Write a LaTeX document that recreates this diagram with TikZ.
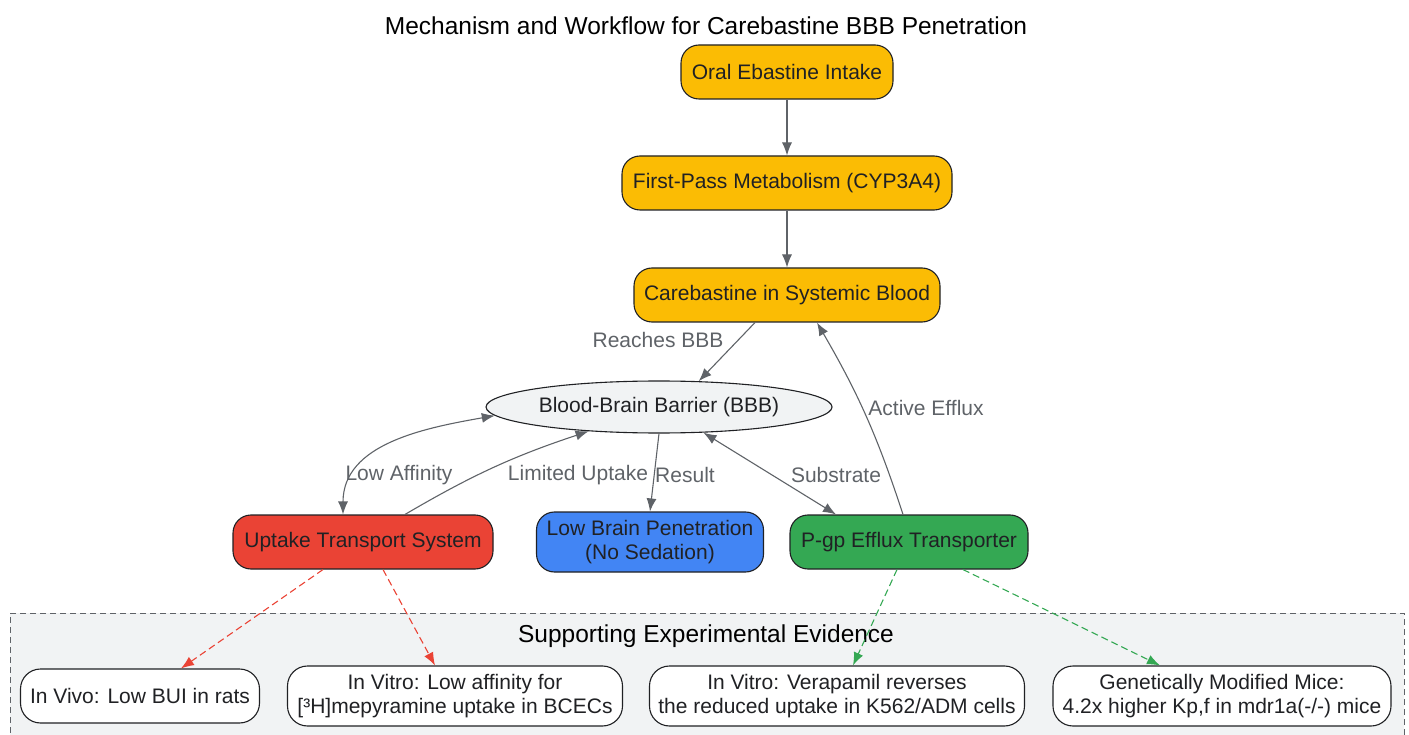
\documentclass[tikz,border=0pt]{standalone}
\usepackage{fontspec}
\setmainfont{Liberation Sans}
\usepackage{tikz}
\usetikzlibrary{arrows.meta}
\usetikzlibrary{shapes.geometric}
\usetikzlibrary{positioning}
\definecolor{amber}{HTML}{FBBC04}
\definecolor{gred}{HTML}{EA4335}
\definecolor{gblue}{HTML}{4285F4}
\definecolor{ggreen}{HTML}{34A853}
\definecolor{edgegray}{HTML}{5F6368}
\definecolor{panelgray}{HTML}{F1F3F4}
\definecolor{inkdark}{HTML}{202124}
\tikzset{>={Latex[length=13pt, width=10pt]}}
\tikzstyle{txt} = [font=\fontsize{21}{24}\selectfont]
\tikzstyle{head} = [font=\fontsize{24.5}{28}\selectfont, text=black, inner sep=0]
\tikzstyle{box} = [txt, rectangle, rounded corners=18pt, draw=inkdark, line width=1.1pt, text=inkdark, minimum height=54pt, align=center]
\tikzstyle{evbox} = [box, fill=white, rounded corners=20pt]
\tikzstyle{lbl} = [txt, text=edgegray, inner sep=0]
\tikzstyle{flow} = [->, draw=edgegray, line width=1.1pt]
\tikzstyle{evd} = [->, line width=1.1pt, dash pattern=on 7pt off 4pt]

\begin{document}
\begin{tikzpicture}[x=1pt, y=-1pt]
\useasboundingbox (0,0) rectangle (1409,735);
%\node [txt] at (706,700) {evidence panel};
\node [rectangle, draw=edgegray, dash pattern=on 6pt off 4pt, line width=1pt, fill=panelgray, minimum width=1394pt, minimum height=128pt, inner sep=0] (panel) at (707,677) {};
\node [head] (title) at (706,26) {Mechanism and Workflow for Carebastine BBB Penetration};
\node [head] (paneltitle) at (706,636) {Supporting Experimental Evidence};

\node [box, fill=amber, minimum width=212pt] (oral) at (787,72) {Oral Ebastine Intake};
\node [box, fill=amber, minimum width=330pt] (fpm) at (787,183) {First-Pass Metabolism (CYP3A4)};
\node [box, fill=amber, minimum width=306pt] (blood) at (787,295) {Carebastine in Systemic Blood};
\node [txt, ellipse, draw=inkdark, line width=1.1pt, fill=panelgray, text=inkdark, minimum width=346pt, minimum height=52pt, inner sep=0] (bbb) at (659,407) {Blood-Brain Barrier (BBB)};
\node [box, fill=gred, minimum width=260pt] (uptake) at (363,542) {Uptake Transport System};
\node [box, fill=gblue, minimum width=227pt, minimum height=60pt] (lowpen) at (650,542) {Low Brain Penetration\\(No Sedation)};
\node [box, fill=ggreen, minimum width=238pt] (pgp) at (909,542) {P-gp Efflux Transporter};

\node [evbox, minimum width=239pt] (invivo) at (140,696) {In Vivo: Low BUI in rats};
\node [evbox, minimum width=335pt, minimum height=60pt] (invitro) at (455,696) {In Vitro: Low affinity for\\{[}³H{]}mepyramine uptake in BCECs};
\node [evbox, minimum width=375pt, minimum height=60pt] (verap) at (837,696) {In Vitro: Verapamil reverses\\the reduced uptake in K562/ADM cells};
\node [evbox, minimum width=338pt, minimum height=60pt] (mice) at (1222,696) {Genetically Modified Mice:\\4.2x higher Kp,f in mdr1a(-/-) mice};

\draw [flow] (oral) to (fpm);
\draw [flow] (fpm) to (blood);
\draw [flow] ([xshift=-32pt]blood.south) to (bbb.33);
\draw [flow] ([xshift=-6pt]pgp.north) to [bend right=6] ([xshift=30pt]blood.south);
\draw [flow, <->] ([xshift=-20pt]uptake.north) to [out=90, in=190] (bbb.183);
\draw [flow] ([xshift=42pt]uptake.north) to [bend left=6] (bbb.199);
\draw [flow] (bbb.south) to (lowpen.north);
\draw [flow, <->] (bbb.330) to ([xshift=-73pt]pgp.north);

\node [lbl] (lreach) at (658,340) {Reaches BBB};
\node [lbl] (lefflux) at (926,408) {Active Efflux};
\node [lbl] (laffin) at (399,475) {Low Affinity};
\node [lbl] (llimit) at (578,475) {Limited Uptake};
\node [lbl] (lresult) at (685,475) {Result};
\node [lbl] (lsubst) at (836,475) {Substrate};

\draw [evd, gred] ([xshift=-40pt]uptake.south) to ([xshift=41pt]invivo.north);
\draw [evd, gred] ([xshift=20pt]uptake.south) to ([xshift=-20pt]invitro.north);
\draw [evd, ggreen] ([xshift=-12pt]pgp.south) to ([xshift=16pt]verap.north);
\draw [evd, ggreen] ([xshift=54pt]pgp.south) to ([xshift=-62pt]mice.north);
\end{tikzpicture}
\end{document}
